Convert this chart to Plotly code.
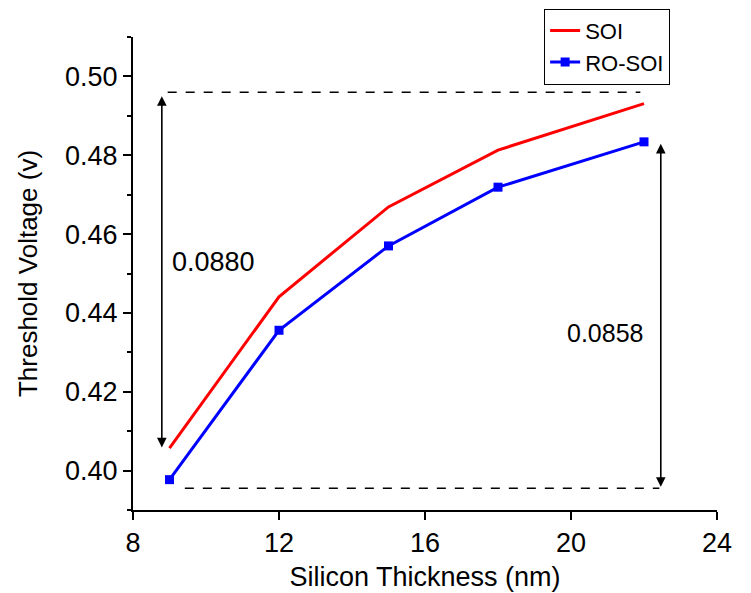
import plotly.graph_objects as go

# Data
thickness = [9, 12, 15, 18, 22]
soi = [0.4057, 0.4441, 0.4669, 0.4813, 0.4931]
ro_soi = [0.3977, 0.4356, 0.4570, 0.4719, 0.4834]

# Annotation guide values
top_level = 0.4960
bottom_level = 0.3955
top_dash_x = [8.95, 21.9]
bottom_dash_x = [9.42, 22.42]
left_arrow_x = 8.79
left_arrow_y = [0.4055, 0.4950]
right_arrow_x = 22.46
right_arrow_y = [0.3955, 0.4829]
left_label = "0.0880"
right_label = "0.0858"

FONT = "Arial, Liberation Sans, sans-serif"

fig = go.Figure()
fig.add_trace(go.Scatter(x=thickness, y=soi, mode="lines", name="SOI",
                         line=dict(color="#ff0000", width=3)))
fig.add_trace(go.Scatter(x=thickness, y=ro_soi, mode="lines+markers", name="RO-SOI",
                         line=dict(color="#0000ff", width=3),
                         marker=dict(symbol="square", size=9, color="#0000ff")))

# dashed reference lines
fig.add_shape(type="line", xref="x", yref="y", x0=top_dash_x[0], x1=top_dash_x[1],
              y0=top_level, y1=top_level, line=dict(color="black", width=1.5, dash="dash"))
fig.add_shape(type="line", xref="x", yref="y", x0=bottom_dash_x[0], x1=bottom_dash_x[1],
              y0=bottom_level, y1=bottom_level, line=dict(color="black", width=1.5, dash="dash"))

# double-headed arrows
for ax_x, ys in [(left_arrow_x, left_arrow_y), (right_arrow_x, right_arrow_y)]:
    fig.add_annotation(x=ax_x, y=ys[1], ax=ax_x, ay=ys[0], xref="x", yref="y",
                       axref="x", ayref="y", text="", showarrow=True,
                       arrowhead=2, arrowside="end+start", arrowsize=1.2,
                       arrowwidth=1.6, arrowcolor="black")

fig.add_annotation(x=(170 - 133) / 36.5 + 8, y=0.4529, xref="x", yref="y", text=left_label,
                   showarrow=False, xanchor="left", font=dict(family=FONT, size=27, color="black"))
fig.add_annotation(x=(645 - 133) / 36.5 + 8, y=0.4349, xref="x", yref="y", text=right_label,
                   showarrow=False, xanchor="right", font=dict(family=FONT, size=25, color="black"))

fig.update_layout(
    width=751, height=593,
    margin=dict(l=133, r=34, t=37, b=83, autoexpand=False),
    paper_bgcolor="white", plot_bgcolor="white",
    font=dict(family=FONT, color="black", size=22),
    showlegend=True,
    legend=dict(x=0.704, y=1.06, xanchor="left", yanchor="top",
                bordercolor="black", borderwidth=1, bgcolor="white",
                font=dict(family=FONT, size=22, color="black"),
                tracegroupgap=0, itemwidth=30),
)
fig.update_xaxes(range=[8, 24], tickvals=[8, 12, 16, 20, 24], showline=True,
                 linecolor="black", linewidth=2, ticks="outside", ticklen=8,
                 tickwidth=2, tickcolor="black", showgrid=False, zeroline=False,
                 title=dict(text="Silicon Thickness (nm)", font=dict(size=27), standoff=10),
                 tickfont=dict(size=27))
fig.update_yaxes(range=[0.39, 0.51], tickvals=[0.40, 0.42, 0.44, 0.46, 0.48, 0.50],
                 tickformat=".2f", showline=True, linecolor="black", linewidth=2,
                 ticks="outside", ticklen=8, tickwidth=2, tickcolor="black",
                 minor=dict(tickvals=[0.39, 0.41, 0.43, 0.45, 0.47, 0.49, 0.51],
                            ticks="outside", ticklen=4, tickwidth=2, tickcolor="black"),
                 showgrid=False, zeroline=False,
                 title=dict(text="Threshold Voltage (v)", font=dict(size=26), standoff=20),
                 tickfont=dict(size=27))

fig.write_html("out.html")
